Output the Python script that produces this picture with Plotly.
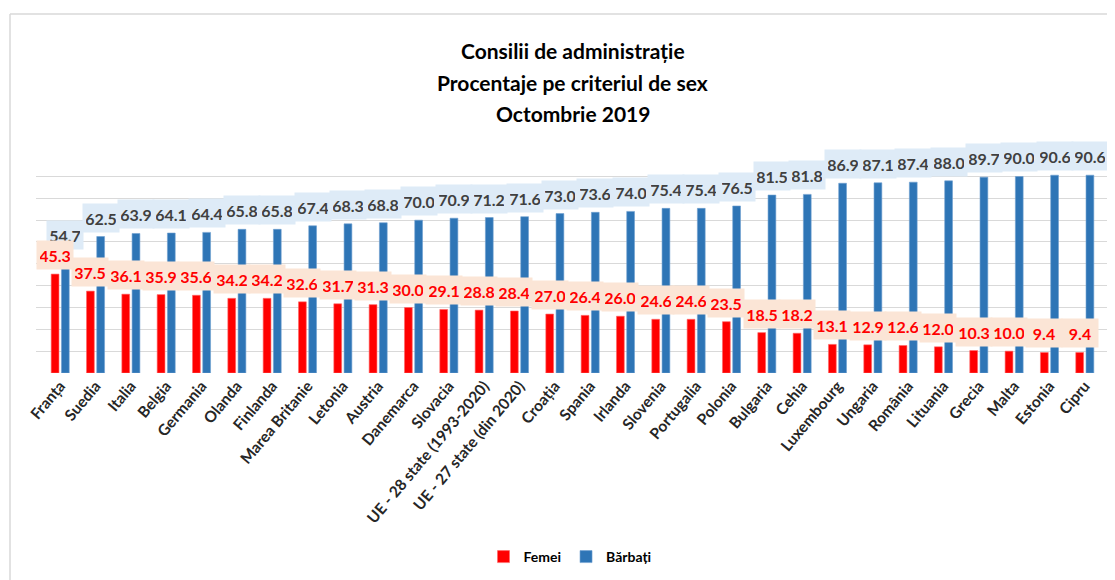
import plotly.graph_objects as go

categories = ["Franța", "Suedia", "Italia", "Belgia", "Germania", "Olanda", "Finlanda",
              "Marea Britanie", "Letonia", "Austria", "Danemarca", "Slovacia",
              "UE - 28 state (1993-2020)", "UE - 27 state (din 2020)", "Croația", "Spania",
              "Irlanda", "Slovenia", "Portugalia", "Polonia", "Bulgaria", "Cehia",
              "Luxembourg", "Ungaria", "România", "Lituania", "Grecia", "Malta",
              "Estonia", "Cipru"]
femei = [45.3, 37.5, 36.1, 35.9, 35.6, 34.2, 34.2, 32.6, 31.7, 31.3, 30.0, 29.1, 28.8, 28.4,
         27.0, 26.4, 26.0, 24.6, 24.6, 23.5, 18.5, 18.2, 13.1, 12.9, 12.6, 12.0, 10.3, 10.0,
         9.4, 9.4]
barbati = [54.7, 62.5, 63.9, 64.1, 64.4, 65.8, 65.8, 67.4, 68.3, 68.8, 70.0, 70.9, 71.2, 71.6,
           73.0, 73.6, 74.0, 75.4, 75.4, 76.5, 81.5, 81.8, 86.9, 87.1, 87.4, 88.0, 89.7, 90.0,
           90.6, 90.6]
title_lines = ["Consilii de administrație", "Procentaje pe criteriul de sex", "Octombrie 2019"]

FONT = "Lato, Calibri, sans-serif"
RED = "#FF0000"
BLUE = "#2E75B6"

W, H = 1115, 580
OFF = 8  # page body margin offset
L, R, T, B = 36 - OFF, 14, 146, 215
pw = W - L - R
ph = H - T - B


def px_x(page_px):
    return (page_px - OFF - L) / pw


def px_y(page_py):
    return (H - B - (page_py - OFF)) / ph


fig = go.Figure()
fig.add_trace(go.Bar(x=categories, y=femei, name="<b>Femei</b>",
                     marker=dict(color=RED, line=dict(color="#FF6666", width=0.6))))
fig.add_trace(go.Bar(x=categories, y=barbati, name="<b>Bărbați</b>",
                     marker=dict(color=BLUE, line=dict(color="#6FA0D0", width=0.6))))

annotations = []
for c, v in zip(categories, barbati):
    annotations.append(dict(x=c, y=v, xref="x", yref="y", text=f"<b>{v:.1f}</b>",
                            showarrow=False, xshift=5.2, yshift=19, yanchor="middle",
                            bgcolor="#DEEBF7", borderpad=3, width=30, height=22,
                            font=dict(family=FONT, size=16, color="#404040")))
for c, v in zip(categories, femei):
    annotations.append(dict(x=c, y=v, xref="x", yref="y", text=f"<b>{v:.1f}</b>",
                            showarrow=False, xshift=-5.2, yshift=19, yanchor="middle",
                            bgcolor="#FBE5D6", borderpad=3, width=30, height=22,
                            font=dict(family=FONT, size=16, color=RED)))

for line, py in zip(title_lines, [50, 82, 113]):
    annotations.append(dict(x=0.5, y=px_y(py), xref="paper", yref="paper",
                            text=f"<b>{line}</b>", showarrow=False,
                            xanchor="center", yanchor="middle",
                            font=dict(family=FONT, size=21, color="black")))

shapes = [
    dict(type="line", xref="paper", yref="paper", x0=px_x(10), x1=px_x(1130),
         y0=px_y(14), y1=px_y(14), line=dict(color="#D9D9D9", width=1.5), layer="below"),
    dict(type="line", xref="paper", yref="paper", x0=px_x(10), x1=px_x(10),
         y0=px_y(14), y1=px_y(600), line=dict(color="#D9D9D9", width=1.5), layer="below"),
]

fig.update_layout(
    width=W, height=H,
    margin=dict(l=L, r=R, t=T, b=B, autoexpand=False),
    paper_bgcolor="white", plot_bgcolor="white",
    barmode="group", bargap=0.42, bargroupgap=0.24,
    xaxis=dict(tickangle=-50, tickfont=dict(family=FONT, size=15.5, color="#262626"),
               showgrid=False, showline=False, ticks="", tickprefix="<b>", ticksuffix="</b>"),
    yaxis=dict(range=[0, 100.3], dtick=10, showticklabels=False, gridcolor="#D9D9D9",
               gridwidth=1.3, zeroline=False, showline=False, ticks=""),
    legend=dict(orientation="h", x=px_x(570), xanchor="center", y=px_y(557), yanchor="middle",
                font=dict(family=FONT, size=14, color="black"), traceorder="normal",
                itemwidth=30),
    annotations=annotations,
    shapes=shapes,
    showlegend=True,
)

fig.write_html("out.html")
